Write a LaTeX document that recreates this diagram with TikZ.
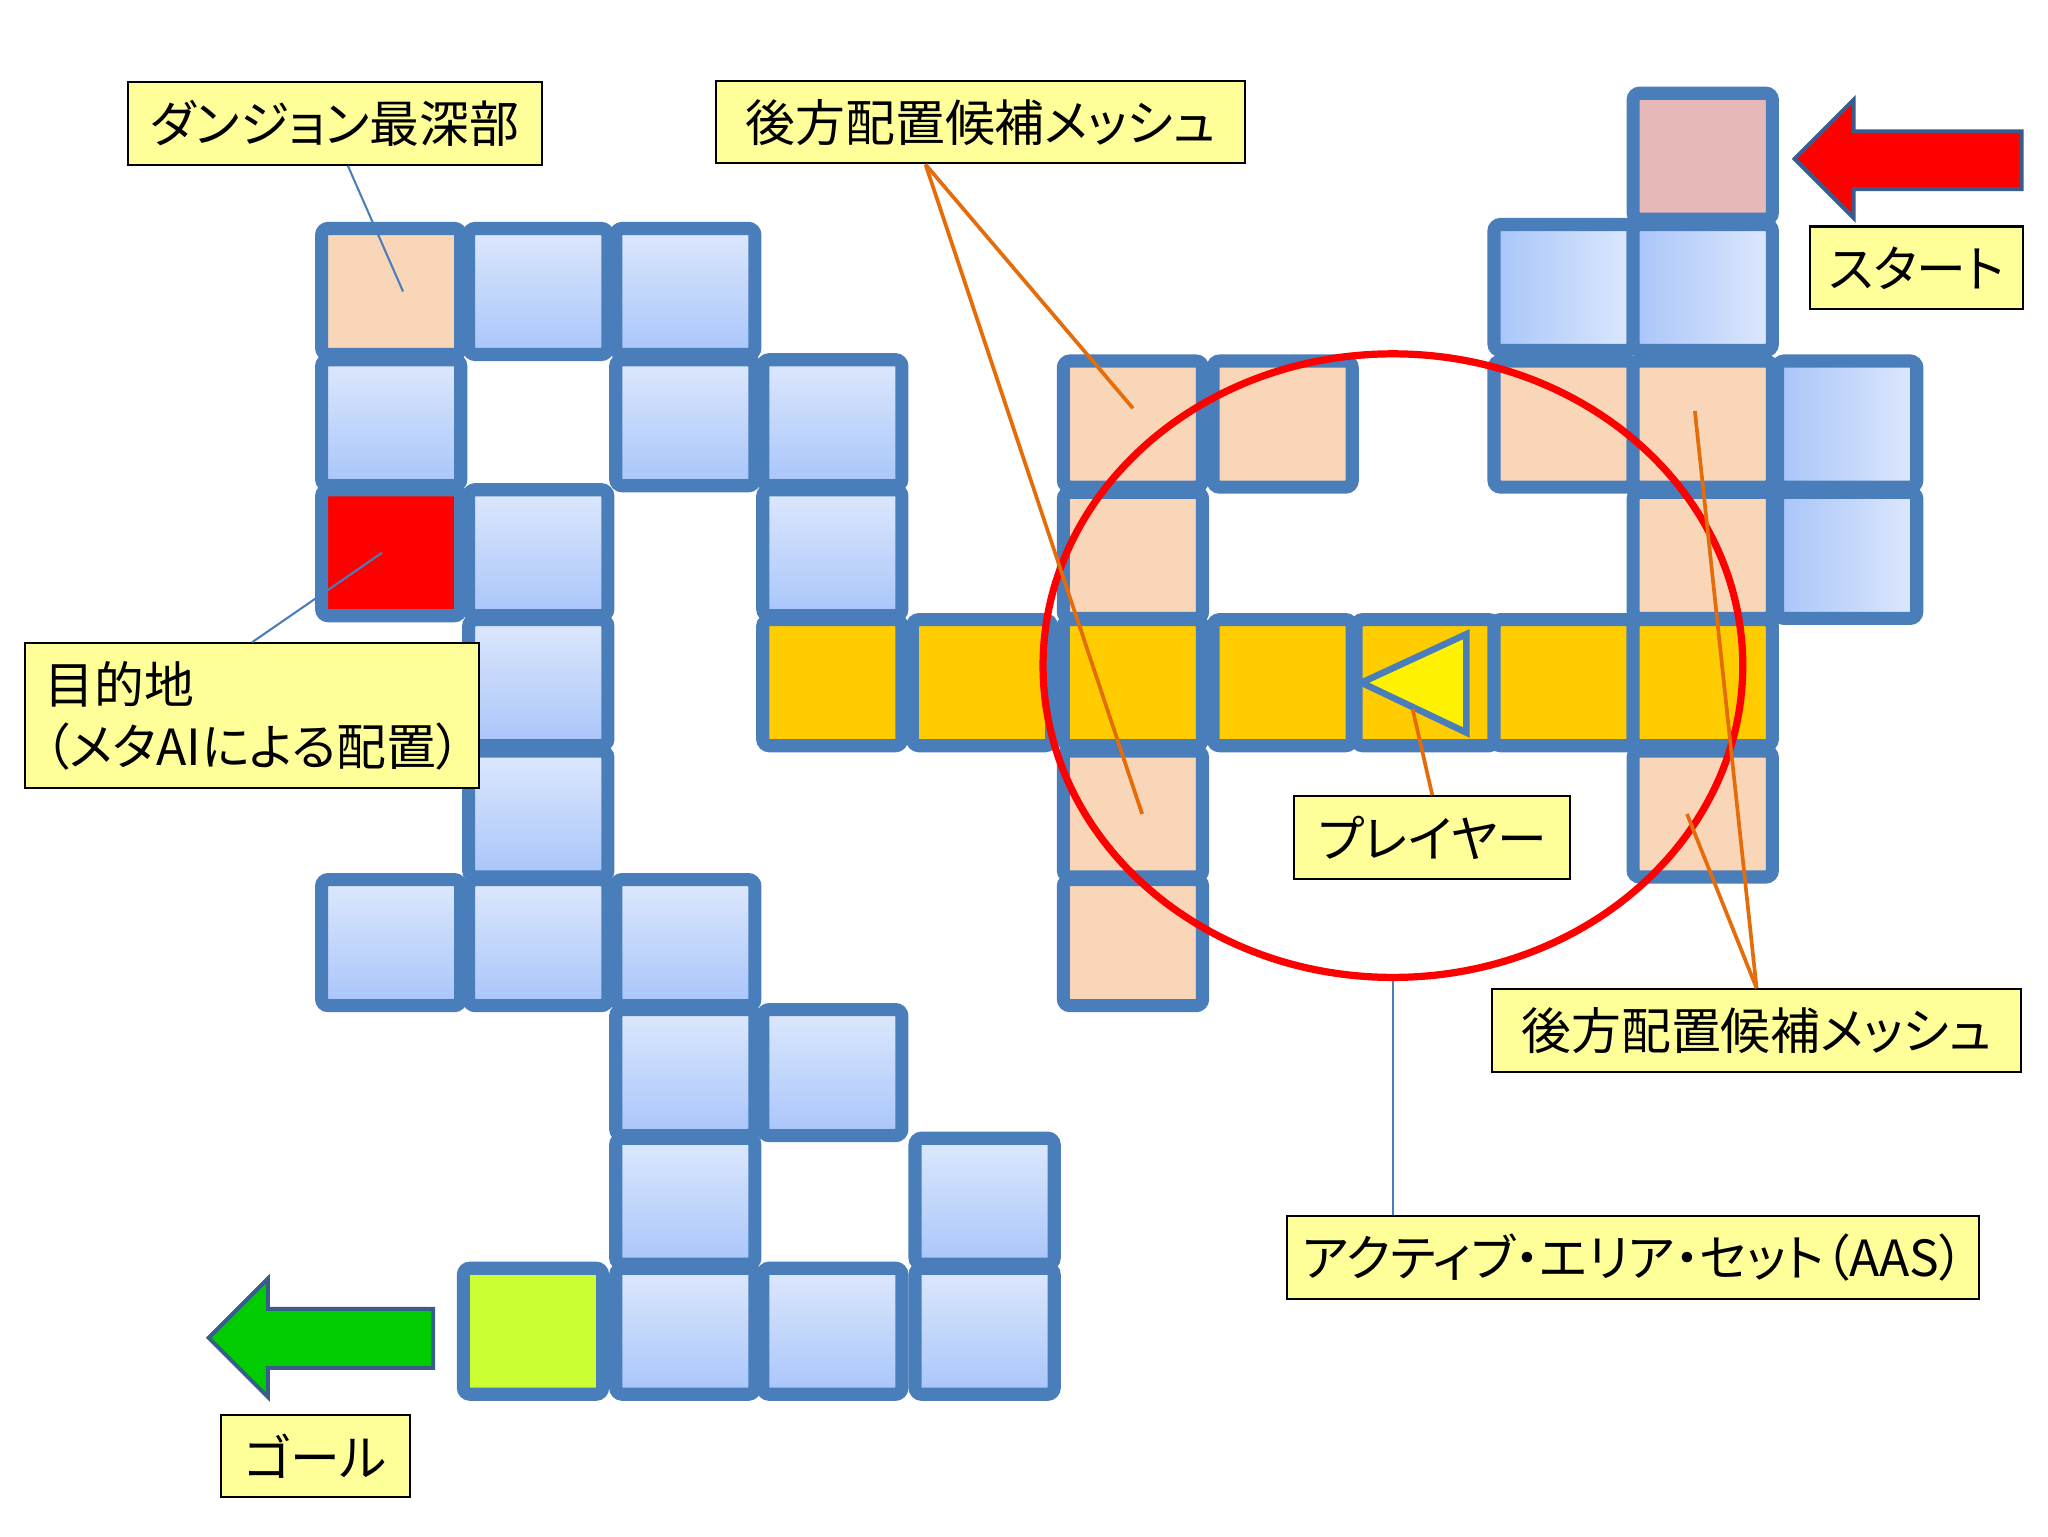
\documentclass[tikz,border=0pt]{standalone}
\usepackage{fontspec}
\setmainfont[RawFeature=+palt]{Noto Sans CJK JP}
\usepackage{tikz}
\usetikzlibrary{shapes.geometric}

\definecolor{cellblue}{HTML}{4A7EBB}
\definecolor{bluetop}{HTML}{DDE8FC}
\definecolor{bluebot}{HTML}{A8C5FA}
\definecolor{peach}{HTML}{FAD6B8}
\definecolor{gold}{HTML}{FFCC00}
\definecolor{startpink}{HTML}{E6B9B8}
\definecolor{goalgreen}{HTML}{CCFF33}
\definecolor{arrowgreen}{HTML}{00CC00}
\definecolor{labelyellow}{HTML}{FFFF99}
\definecolor{lineorange}{HTML}{E46C0A}
\definecolor{arrowedge}{HTML}{385D8A}

\begin{document}
\begin{tikzpicture}[x=0.1mm,y=-0.1mm,
  cell/.style={draw=cellblue,line width=1mm,rounded corners=0.5mm,minimum width=10.6mm,minimum height=9.6mm,inner sep=0pt},
  blue node/.style={cell,top color=bluetop,bottom color=bluebot},
  side node/.style={cell,left color=bluebot,right color=bluetop},
  peach node/.style={cell,fill=peach},
  gold node/.style={cell,fill=gold},
  label node/.style={draw,fill=labelyellow,line width=0.45pt,inner sep=0pt,minimum height=6.3mm,font=\fontsize{10.8}{13.4}\selectfont},
  blue line/.style={cellblue,line width=0.45pt},
  orange line/.style={lineorange,line width=0.8pt}]
  \useasboundingbox[fill=white] (0,0) rectangle (1560,1170);

  % left part of the dungeon
  \foreach \n/\x/\y in {b1/410/222,b2/522/222,b3/298/322,b4/522/322,b5/634/322,b6/410/421,b7/634/421,
    b8/410/520,b9/410/620,b10/298/718,b11/410/718,b12/522/718,b13/522/817,b14/634/817,
    b15/522/915,b16/750/915,b17/522/1014,b18/634/1014,b19/750/1014}
    \node[blue node] (\n) at (\x,\y) {};
  \node[peach node] (deep) at (298,222) {};
  \node[cell,fill=red] (dest) at (298,421) {};
  \node[cell,fill=goalgreen] (goal) at (406,1014) {};

  % right part of the dungeon
  \node[cell,fill=startpink] (start) at (1297,119) {};
  \foreach \n/\x/\y in {s1/1191/219,s2/1297/219,s3/1407/323,s4/1407/423}
    \node[side node] (\n) at (\x,\y) {};
  \foreach \n/\x/\y in {m1/863/323,m2/977/323,m3/1191/323,m4/1297/323,m5/863/423,
    m6/1297/423,m7/863/620,m8/1297/620,m9/863/718}
    \node[peach node] (\n) at (\x,\y) {};
  \foreach \n/\x in {p1/634,p2/748,p3/863,p4/977,p5/1086,p6/1191,p7/1297}
    \node[gold node] (\n) at (\x,520) {};

  % player
  \filldraw[fill=yellow,draw=cellblue,line width=0.5mm] (1037,520) -- (1117,483) -- (1117,558) -- cycle;
  \coordinate (me) at (1076,540);

  \node[draw=red,line width=0.55mm,ellipse,minimum width=53.3mm,minimum height=47.5mm,inner sep=0pt] (aas) at (1061,507) {};

  % start and goal arrows
  \filldraw[fill=red,draw=arrowedge,line width=0.3mm] (1367,121) -- (1412,76) -- (1412,100) -- (1540,100)
    -- (1540,144) -- (1412,144) -- (1412,166) -- cycle;
  \filldraw[fill=arrowgreen,draw=arrowedge,line width=0.3mm] (159,1019) -- (204,974) -- (204,997) -- (330,997)
    -- (330,1042) -- (204,1042) -- (204,1064) -- cycle;

  % labels
  \node[label node,minimum width=31.5mm] (l1) at (255,94) {ダンジョン最深部};
  \node[label node,minimum width=40.3mm] (l2) at (747,93) {後方配置候補メッシュ};
  \node[label node,minimum width=16.2mm] (l3) at (1460,204) {スタート};
  \node[label node,minimum height=11mm,text width=31.6mm,inner xsep=1.5mm,align=left] (l4) at (192,545)
    {目的地\\（メタAIによる配置）};
  \node[label node,minimum width=21mm] (l5) at (1091,638) {プレイヤー};
  \node[label node,minimum width=40.3mm] (l6) at (1338,785) {後方配置候補メッシュ};
  \node[label node,minimum width=52.7mm] (l7) at (1244,958) {アクティブ・エリア・セット（AAS）};
  \node[label node,minimum width=14.4mm] (l8) at (240,1109) {ゴール};

  \draw[blue line] ([xshift=1mm]l1.south) -- ([xshift=0.9mm]deep.center);
  \draw[blue line] (l4.north) -- ([xshift=-0.7mm]dest.center);
  \draw[blue line] (aas.south) -- (aas.south |- l7.north);
  \draw[orange line] ([xshift=-4.2mm]l2.south) -- ([yshift=1.2mm]m1.center);
  \draw[orange line] ([xshift=-4.2mm]l2.south) -- ([xshift=0.7mm]m7.center);
  \draw[orange line] (l6.north) -- ([xshift=-0.6mm,yshift=1mm]m4.center);
  \draw[orange line] (l6.north) -- ([xshift=-1.2mm]m8.center);
  \draw[orange line] (l5.north) -- (me);
\end{tikzpicture}
\end{document}
